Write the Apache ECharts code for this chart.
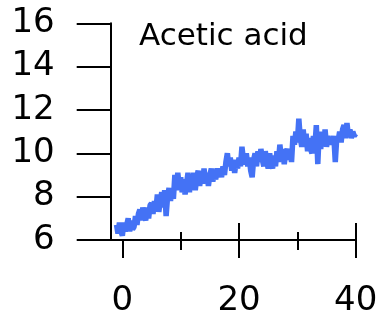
<!DOCTYPE html>
<html>
<head>
<meta charset="utf-8">
<script src="https://cdn.jsdelivr.net/npm/echarts@6/dist/echarts.min.js"></script>
<style>
  html, body { margin: 0; padding: 0; background: #fff; }
  #chart { width: 381px; height: 312px; }
</style>
</head>
<body>
<div id="chart"></div>
<script>
// time axis: first sample and spacing
var xStart = -1;
var xStep = 0.25;
// acetic acid readings
var acetic = [
  6.7, 6.3, 6.8, 6.4,
  6.2, 6.8, 6.4, 6.7,
  7.0, 6.4, 6.9, 6.5,
  6.6, 7.1, 6.7, 7.2,
  7.4, 6.9, 7.5, 7.1,
  6.9, 7.5, 7.0, 7.6,
  7.7, 7.2, 7.8, 7.4,
  8.1, 7.3, 7.8, 8.2,
  7.5, 8.3, 7.1, 8.0,
  8.4, 7.8, 8.3, 7.9,
  9.0, 8.3, 9.1, 8.5,
  8.9, 8.2, 8.8, 8.1,
  8.6, 9.1, 8.2, 9.0,
  8.5, 9.1, 8.3, 8.9,
  9.2, 8.5, 9.0, 8.6,
  9.3, 8.7, 9.1, 8.5,
  9.0, 9.3, 8.7, 9.1,
  8.8, 9.3, 8.9, 9.2,
  8.9, 9.4, 9.0, 9.6,
  10.0, 9.4, 9.8, 9.2,
  9.7, 9.1, 9.6, 9.3,
  9.8, 9.4, 10.3, 9.7,
  9.5, 10.0, 9.4, 9.8,
  9.2, 8.9, 9.7, 10.0,
  9.4, 10.1, 9.6, 10.2,
  9.7, 9.4, 10.1, 9.6,
  9.3, 10.0, 9.5, 9.3,
  9.9, 9.4, 10.1, 9.6,
  10.4, 9.8, 10.2, 9.5,
  10.0, 10.2, 9.7, 10.1,
  9.6, 10.8, 10.4, 11.0,
  10.5, 11.6, 10.7, 10.3,
  11.1, 10.4, 10.9, 10.1,
  10.7, 10.2, 10.0, 10.8,
  10.3, 11.3, 9.5, 11.0,
  10.2, 10.9, 10.4, 11.1,
  10.3, 10.8, 10.4, 10.7,
  10.4, 10.8, 9.6, 10.7,
  10.6, 11.0, 10.5, 11.1,
  11.3, 10.7, 11.4, 10.8,
  11.1, 10.7, 11.0, 10.8,
  10.9
];
var xMajor = [0, 20, 40];
var xMinor = [10, 30];
var titleText = 'Acetic acid';

var pts = acetic.map(function (v, i) { return [xStart + i * xStep, v]; });

var font = 'DejaVu Sans';
var axisCommon = {
  type: 'value', min: -2, max: 40, position: 'bottom',
  axisLine: { show: false, onZero: false },
  splitLine: { show: false },
  axisLabel: { show: false }
};

var myChart = echarts.init(document.getElementById('chart'));
myChart.setOption({
  backgroundColor: '#fff',
  animation: false,
  title: {
    text: titleText, left: 139, top: 21, padding: 0,
    textStyle: { fontFamily: font, fontSize: 31, fontWeight: 'normal', color: '#000' }
  },
  grid: { left: 110.7, right: 25.3, top: 23.3, bottom: 72, containLabel: false, outerBoundsMode: 'none' },
  xAxis: [
    // main axis: line, labels, outer major ticks
    {
      type: 'value', min: -2, max: 40, position: 'bottom',
      axisLine: { show: true, onZero: false, lineStyle: { color: '#000', width: 2 } },
      axisTick: { show: true, customValues: xMajor, length: 18, lineStyle: { color: '#000', width: 2 } },
      axisLabel: { show: true, customValues: xMajor, margin: 44, fontFamily: font, fontSize: 34, color: '#000' },
      splitLine: { show: false }
    },
    // inner part of major ticks
    Object.assign({}, axisCommon, {
      axisTick: { show: true, inside: true, customValues: [20, 40], length: 17, lineStyle: { color: '#000', width: 2 } }
    }),
    // minor ticks, outside
    Object.assign({}, axisCommon, {
      axisTick: { show: true, customValues: xMinor, length: 10, lineStyle: { color: '#000', width: 2 } }
    }),
    // minor ticks, inside
    Object.assign({}, axisCommon, {
      axisTick: { show: true, inside: true, customValues: xMinor, length: 8, lineStyle: { color: '#000', width: 2 } }
    })
  ],
  yAxis: {
    type: 'value', min: 6, max: 16, interval: 2,
    axisLine: { show: true, onZero: false, lineStyle: { color: '#000', width: 2 } },
    axisTick: { show: true, length: 34, lineStyle: { color: '#000', width: 2 } },
    axisLabel: { margin: 56, fontFamily: font, fontSize: 34, color: '#000' },
    splitLine: { show: false }
  },
  series: [{
    type: 'line',
    data: pts,
    showSymbol: false,
    z: 3,
    lineStyle: { color: '#4472f5', width: 5.5 }
  }]
});
</script>
</body>
</html>
